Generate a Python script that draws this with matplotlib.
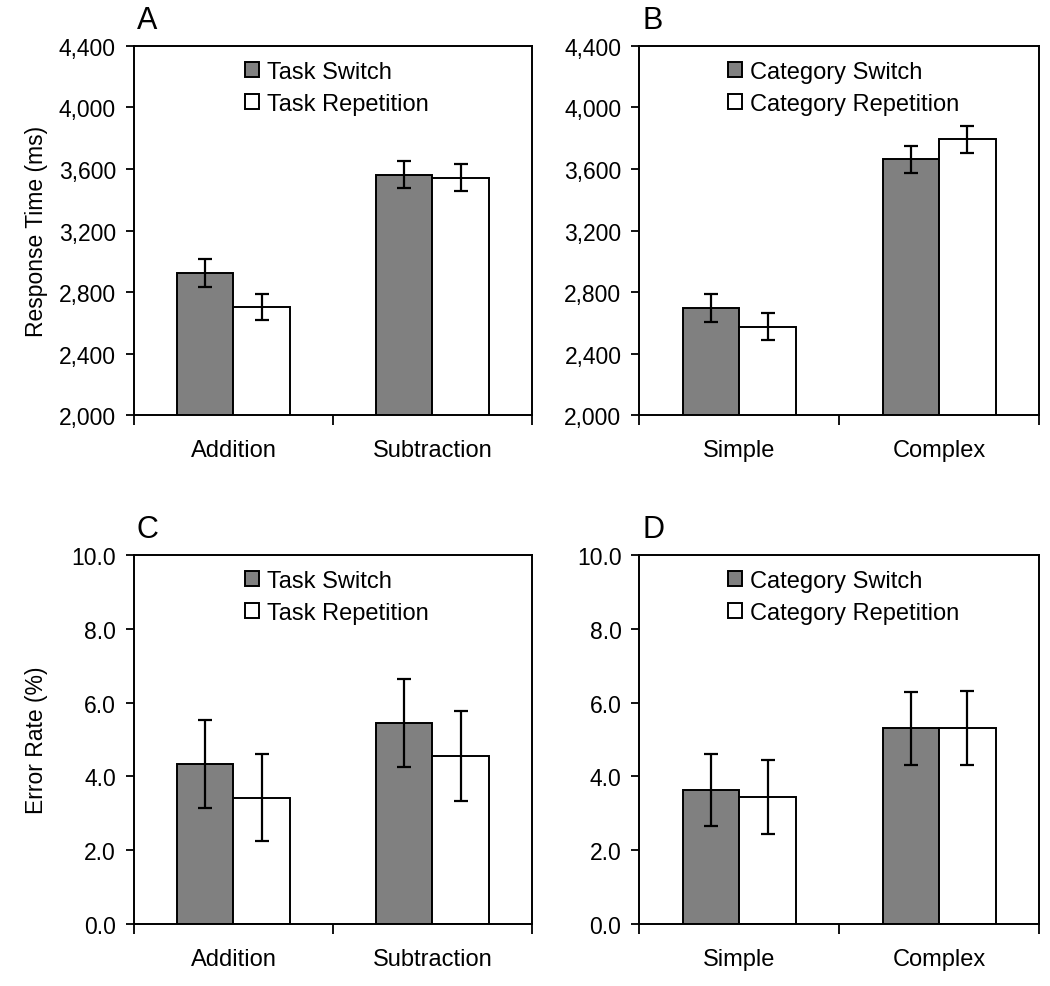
import numpy as np
import matplotlib
matplotlib.use("Agg")
from matplotlib import pyplot as plt
from matplotlib.ticker import FuncFormatter

plt.rcParams['font.family'] = ['Liberation Sans', 'DejaVu Sans']

# data
math_cats = ["Addition", "Subtraction"]
sem_cats = ["Simple", "Complex"]

rt_task_switch = [2924, 3564]
rt_task_switch_err = [90, 88]
rt_task_rep = [2701, 3543]
rt_task_rep_err = [85, 88]

rt_cat_switch = [2694, 3664]
rt_cat_switch_err = [90, 88]
rt_cat_rep = [2575, 3794]
rt_cat_rep_err = [88, 88]

er_task_switch = [4.34, 5.45]
er_task_switch_err = [1.19, 1.19]
er_task_rep = [3.42, 4.55]
er_task_rep_err = [1.18, 1.21]

er_cat_switch = [3.63, 5.31]
er_cat_switch_err = [0.98, 0.99]
er_cat_rep = [3.44, 5.31]
er_cat_rep_err = [1.0, 1.01]


def panel(ax, letter, cats, sw, sw_err, rep, rep_err, names, ylim, ticks, fmt, leg_x):
    x = np.arange(len(cats)) + 0.5
    w = 0.283
    ekw = dict(elinewidth=1.6, capthick=1.6, capsize=5, ecolor="black")
    ax.bar(x - w / 2, sw, w, yerr=sw_err, color="#808080", edgecolor="black",
           linewidth=1.4, label=names[0], error_kw=ekw)
    ax.bar(x + w / 2, rep, w, yerr=rep_err, color="white", edgecolor="black",
           linewidth=1.4, label=names[1], error_kw=ekw)
    ax.set_xlim(0, len(cats))
    ax.set_xticks(np.arange(len(cats) + 1))
    ax.set_xticklabels([])
    ax.set_xticks(x, minor=True)
    ax.set_xticklabels(cats, minor=True)
    ax.tick_params(axis="x", which="minor", length=0, pad=17, labelsize=17)
    ax.tick_params(axis="x", which="major", length=7, width=1.3, direction="out")
    ax.set_ylim(*ylim)
    ax.set_yticks(ticks)
    ax.yaxis.set_major_formatter(FuncFormatter(fmt))
    ax.tick_params(axis="y", length=6, width=1.3, labelsize=16.5, pad=7)
    for s in ax.spines.values():
        s.set_linewidth(1.4)
    ax.legend(loc="upper left", bbox_to_anchor=(leg_x, 0.96), frameon=False,
              fontsize=17, handlelength=0.6, handleheight=0.6, borderpad=0,
              handletextpad=0.33, labelspacing=0.42, borderaxespad=0)
    ax.text(0.0075, 1.03, letter, transform=ax.transAxes, fontsize=22,
            ha="left", va="bottom")


fig = plt.figure(figsize=(10.5, 9.87), dpi=100)
axA = fig.add_axes([0.1276, 0.5785, 0.379, 0.3739])
axB = fig.add_axes([0.609, 0.5785, 0.3805, 0.3739])
axC = fig.add_axes([0.1276, 0.0628, 0.379, 0.3739])
axD = fig.add_axes([0.609, 0.0628, 0.3805, 0.3739])

rt_fmt = lambda v, p: "{:,.0f}".format(v)
er_fmt = lambda v, p: "{:.1f}".format(v)
rt_ticks = np.arange(2000, 4401, 400)
er_ticks = np.arange(0, 10.1, 2)

panel(axA, "A", math_cats, rt_task_switch, rt_task_switch_err, rt_task_rep, rt_task_rep_err,
      ["Task Switch", "Task Repetition"], (2000, 4400), rt_ticks, rt_fmt, 0.279)
panel(axB, "B", sem_cats, rt_cat_switch, rt_cat_switch_err, rt_cat_rep, rt_cat_rep_err,
      ["Category Switch", "Category Repetition"], (2000, 4400), rt_ticks, rt_fmt, 0.222)
panel(axC, "C", math_cats, er_task_switch, er_task_switch_err, er_task_rep, er_task_rep_err,
      ["Task Switch", "Task Repetition"], (0, 10), er_ticks, er_fmt, 0.279)
panel(axD, "D", sem_cats, er_cat_switch, er_cat_switch_err, er_cat_rep, er_cat_rep_err,
      ["Category Switch", "Category Repetition"], (0, 10), er_ticks, er_fmt, 0.222)

axA.set_ylabel("Response Time (ms)", fontsize=16.5)
axC.set_ylabel("Error Rate (%)", fontsize=16.5)
axA.yaxis.set_label_coords(-0.215, 0.5)
axC.yaxis.set_label_coords(-0.215, 0.5)

fig.savefig("out.png", dpi=100)
